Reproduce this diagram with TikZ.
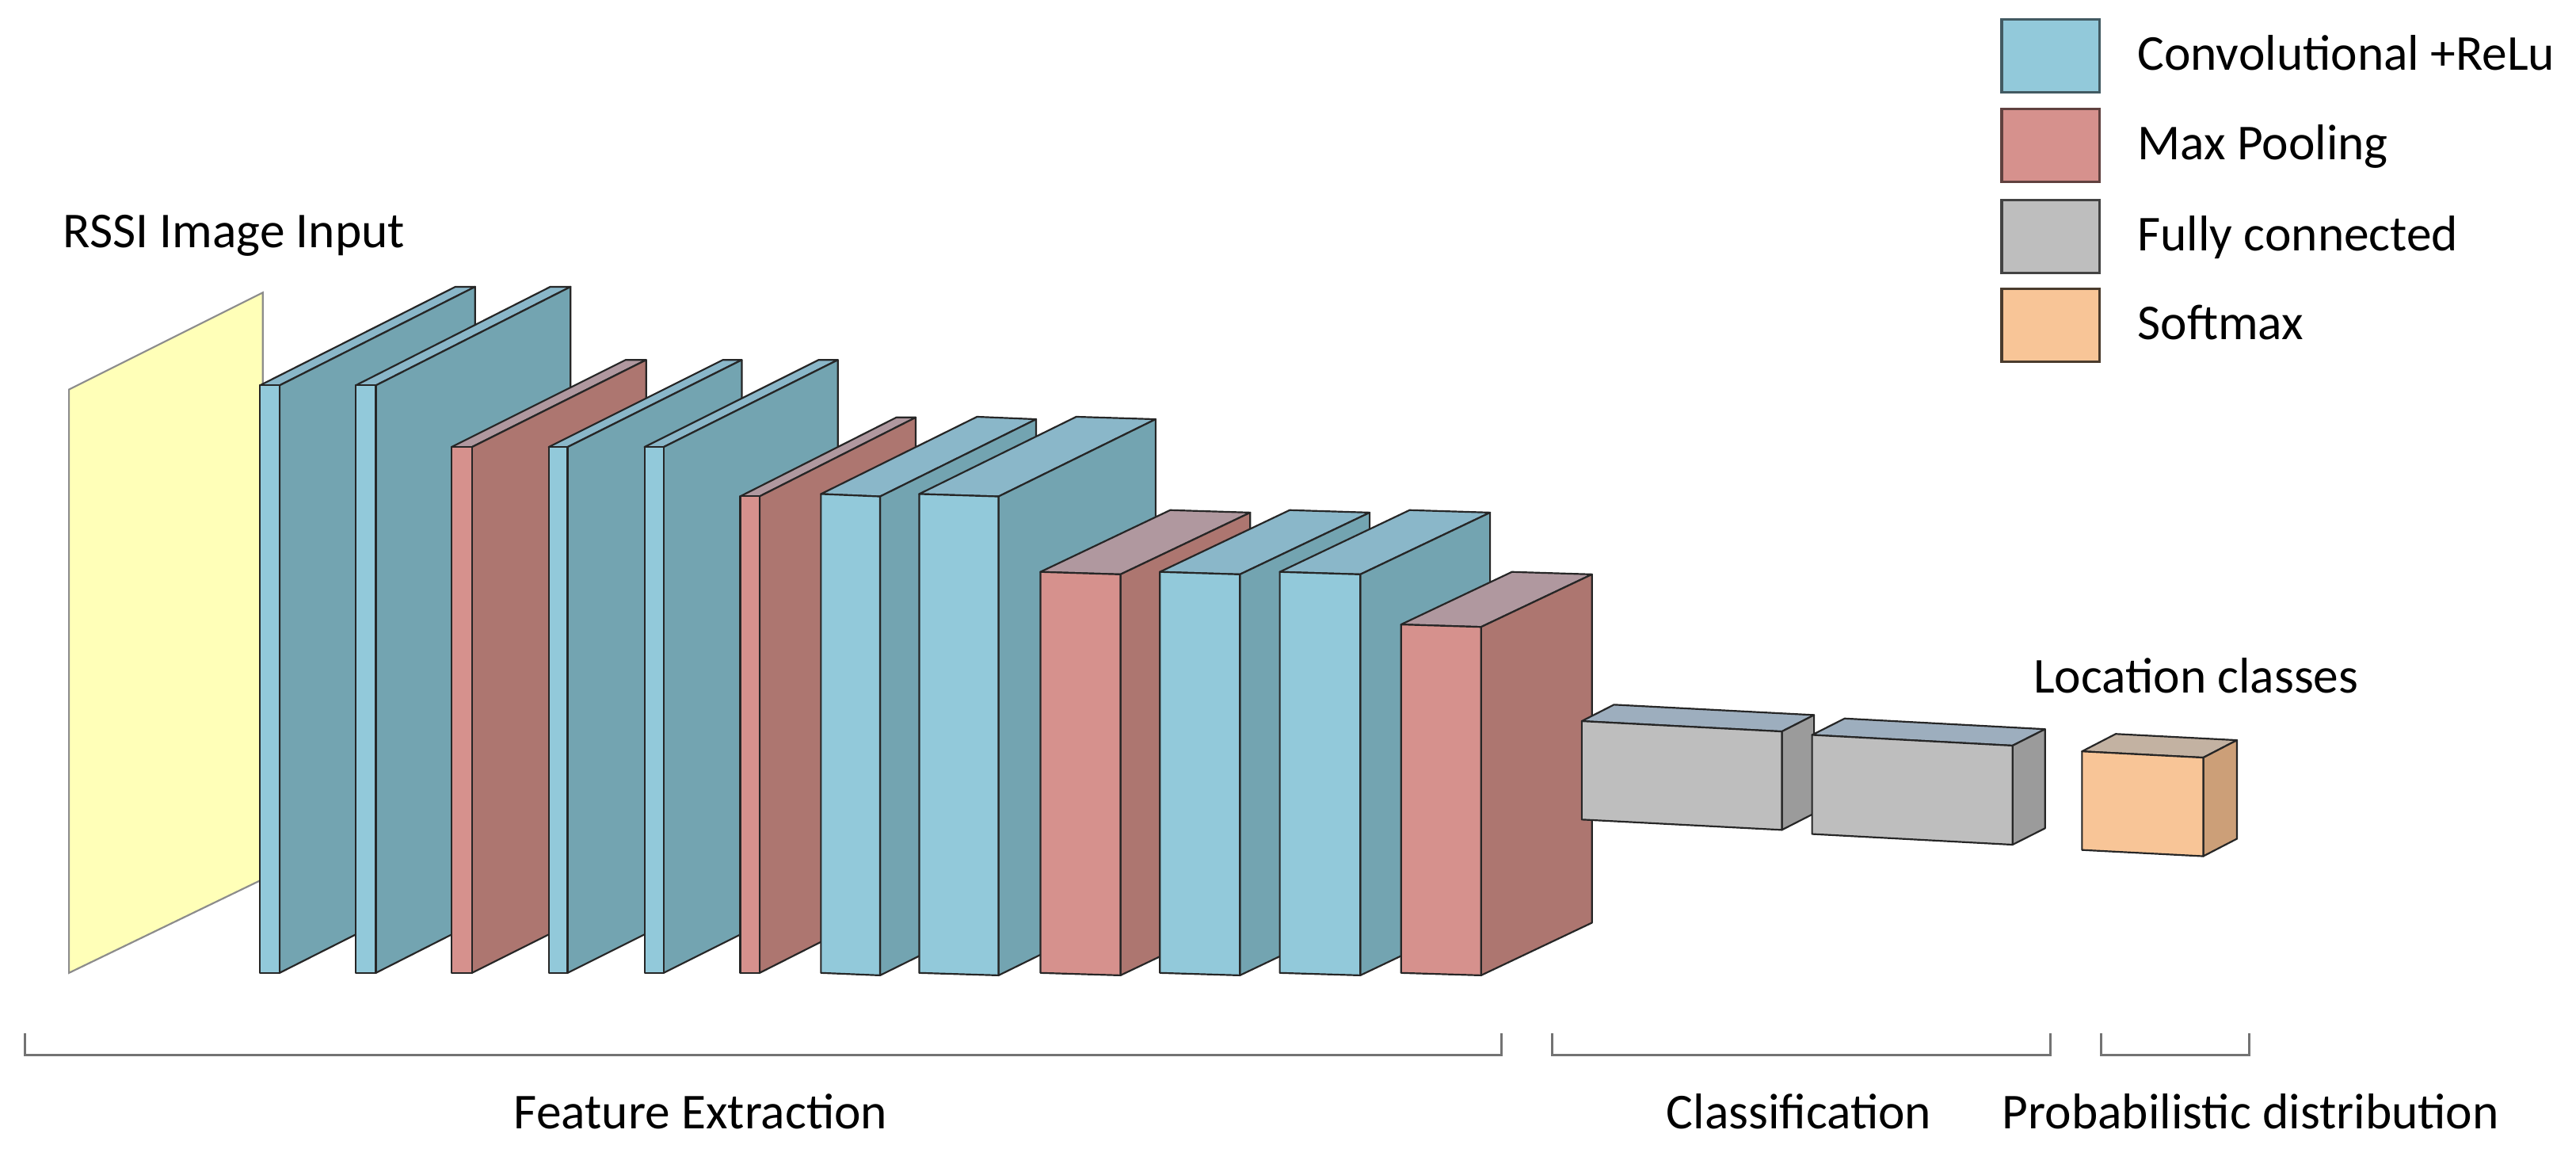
\documentclass[tikz,border=0pt]{standalone}
\usepackage{fontspec}
\setmainfont{Carlito}
\usepackage{tikz}
\usetikzlibrary{positioning}

\definecolor{convfront}{HTML}{92C9DA}
\definecolor{convside}{HTML}{73A4B1}
\definecolor{convtop}{HTML}{8AB7C9}
\definecolor{poolfront}{HTML}{D6918D}
\definecolor{poolside}{HTML}{AD7670}
\definecolor{pooltop}{HTML}{B0989F}
\definecolor{fcfront}{HTML}{BEBEBE}
\definecolor{fcside}{HTML}{9B9B9B}
\definecolor{fctop}{HTML}{9DAEBE}
\definecolor{smfront}{HTML}{F8C597}
\definecolor{smside}{HTML}{CC9F78}
\definecolor{smtop}{HTML}{C3B2A2}
\definecolor{inputfill}{HTML}{FFFFB8}

% [slant]{kind}{x}{width}{top}{bottom}{depth x}{depth y}
\newcommand{\cnnlayer}[8][0]{%
  \filldraw[face, fill=#2top] (#3,#5) -- ++(#7,#8) -- ++(#4,#1) -- (#3+#4,#5+#1) -- cycle;
  \filldraw[face, fill=#2side] (#3+#4,#5+#1) -- ++(#7,#8) -- ++(0,#6-#5) -- (#3+#4,#6+#1) -- cycle;
  \filldraw[face, fill=#2front] (#3,#5) -- (#3+#4,#5+#1) -- (#3+#4,#6+#1) -- (#3,#6) -- cycle;
}

\begin{document}
\begin{tikzpicture}[x=0.2mm, y=-0.2mm, font=\fontsize{17.4pt}{20pt}\selectfont]

\tikzset{face/.style={
  draw=black!85,
  line width=0.6pt,
  line join=round
  },
  lbl/.style={inner sep=0pt},
  key/.style={
  rectangle,
  inner sep=0pt,
  minimum width=11.9mm,
  minimum height=8.9mm,
  line width=0.9pt
  },
  keytext/.style={inner sep=0pt, text height=10pt, text depth=0pt},
  bracket/.style={draw=black!55, line width=0.8pt}
}

\useasboundingbox (0,0) rectangle (1568,708);

\filldraw[fill=inputfill, draw=black!45, line width=0.6pt] (42,237) -- (160,178) -- (160,535) -- (42,592) -- cycle;
\node[lbl, anchor=base west] (input) at (38,150.6) {RSSI Image Input};

\cnnlayer{conv}{158.2}{12}{234.5}{592}{119}{-60}
\cnnlayer{conv}{216.5}{12.3}{234.5}{592}{118.5}{-60}
\cnnlayer{pool}{274.8}{12.5}{272}{592}{106}{-53}
\cnnlayer{conv}{334}{11.5}{272}{592}{106}{-53}
\cnnlayer{conv}{392.3}{11.7}{272}{592}{106}{-53}
\cnnlayer{pool}{450.6}{11.8}{302}{592}{95}{-48}
\cnnlayer[1.5]{conv}{499.7}{36}{300.6}{592}{95}{-47}
\cnnlayer[1.5]{conv}{559.5}{48.3}{300.6}{592}{95.6}{-47}
\cnnlayer[1.5]{pool}{633.3}{48.7}{348}{592}{79}{-37.6}
\cnnlayer[1.5]{conv}{706}{48.7}{348}{592}{79}{-37.6}
\cnnlayer[1.5]{conv}{779}{49}{348}{592}{79}{-37.6}
\cnnlayer[1.5]{pool}{852.8}{48.7}{380}{592}{67.5}{-32}
\cnnlayer[6.3]{fc}{962.8}{121.8}{438.8}{498.7}{19.6}{-10}
\cnnlayer[6.5]{fc}{1103}{122}{447.2}{507.5}{19.8}{-10}
\cnnlayer[3.8]{sm}{1267.3}{73.8}{457.2}{517.2}{20.5}{-10.6}

\node[lbl, anchor=base west] (classes) at (1237.4,421.8) {Location classes};

% legend
\node[key, fill=convfront, draw=convfront!45!black] (convkey) at (1248.2,34) {};
\node[key, fill=poolfront, draw=poolfront!45!black] (poolkey) at (1248.2,88.4) {};
\node[key, fill=fcfront, draw=fcfront!35!black] (fckey) at (1248.2,144) {};
\node[key, fill=smfront, draw=smfront!30!black] (smkey) at (1248.2,197.9) {};
\node[keytext, right=4.4mm of convkey] (convtxt) {Convolutional +ReLu};
\node[keytext, right=4.4mm of poolkey] (pooltxt) {Max Pooling};
\node[keytext, right=4.4mm of fckey] (fctxt) {Fully connected};
\node[keytext, right=4.4mm of smkey] (smtxt) {Softmax};

% stages
\draw[bracket] (15,628.5) |- (914,642) -- (914,628.5);
\draw[bracket] (945,628.5) |- (1248,642) -- (1248,628.5);
\draw[bracket] (1279,628.5) |- (1369,642) -- (1369,628.5);
\node[lbl, anchor=base] (featlbl) at (426.5,687) {Feature Extraction};
\node[lbl, anchor=base] (classlbl) at (1095,687) {Classification};
\node[lbl, anchor=base] (problbl) at (1370,687) {Probabilistic distribution};
\end{tikzpicture}
\end{document}
